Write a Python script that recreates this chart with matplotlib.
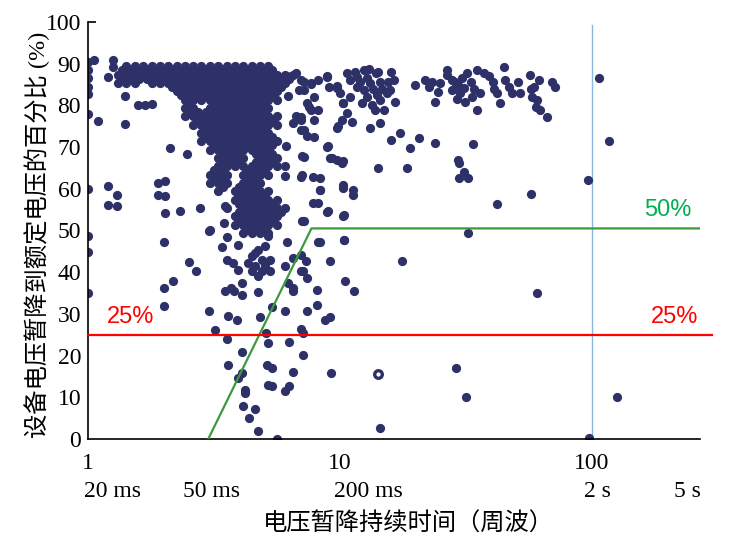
import numpy as np
import matplotlib.pyplot as plt

plt.rcParams['font.family'] = ['Liberation Serif', 'Noto Sans CJK SC']

# 暂降持续时间（周波）与电压百分比 —— 从原图读取
# 密集区：每行 (百分比, [持续时间...])
core_rows = [
    (89.4, [1.42, 1.54, 1.66, 1.79, 1.93, 2.08, 2.25, 2.43, 2.62, 2.82, 3.05, 3.29, 3.55, 3.83, 4.13, 4.46, 4.81, 5.19]),
    (88.4, [1.37, 1.48, 1.60, 1.72, 1.86, 2.00, 2.16, 2.34, 2.52, 2.72, 2.93, 3.17, 3.42, 3.69, 3.98, 4.29, 4.63, 5.00, 5.39]),
    (87.4, [1.32, 1.42, 1.54, 1.66, 1.79, 1.93, 2.08, 2.25, 2.43, 2.62, 2.82, 3.05, 3.29, 3.55, 3.83, 4.13, 4.46, 4.81, 5.19, 5.60, 6.05, 6.53]),
    (86.4, [1.37, 1.48, 1.60, 1.72, 1.86, 2.00, 2.16, 2.34, 2.52, 2.72, 2.93, 3.17, 3.42, 3.69, 3.98, 4.29, 4.63, 5.00, 5.39, 5.82, 6.29]),
    (85.4, [1.32, 1.42, 1.54, 1.79, 1.93, 2.08, 2.25, 2.43, 2.62, 2.82, 3.05, 3.29, 3.55, 3.83, 4.13, 4.46, 4.81, 5.19, 5.60, 6.05]),
    (84.4, [2.16, 2.34, 2.52, 2.72, 2.93, 3.17, 3.42, 3.69, 3.98, 4.29, 4.63, 5.00, 5.39, 5.82]),
    (83.4, [2.25, 2.43, 2.62, 2.82, 3.05, 3.29, 3.55, 3.83, 4.13, 4.46, 4.81, 5.19, 5.60]),
    (82.4, [2.34, 2.52, 2.72, 2.93, 3.17, 3.42, 3.69, 3.98, 4.29, 4.63, 5.00, 5.39]),
    (81.4, [2.43, 2.62, 2.82, 3.05, 3.29, 3.55, 3.83, 4.13, 4.46, 4.81, 5.19, 5.60]),
    (80.4, [2.52, 3.17, 3.42, 3.69, 3.98, 4.29, 4.63, 5.00]),
    (79.4, [2.43, 2.62, 3.05, 3.29, 3.55, 3.83, 4.13, 4.46, 4.81, 5.19]),
    (78.4, [2.52, 2.72, 2.93, 3.17, 3.42, 3.69, 3.98, 4.29, 4.63, 5.00]),
    (77.4, [2.43, 2.62, 2.82, 3.05, 3.29, 3.55, 3.83, 4.13, 4.46, 4.81, 5.19, 5.60]),
    (76.4, [2.72, 2.93, 3.17, 3.42, 3.69, 3.98, 4.29, 4.63, 5.00, 5.39]),
    (75.4, [2.62, 2.82, 3.05, 3.29, 3.55, 3.83, 4.13, 4.46, 4.81, 5.19, 5.60]),
    (74.4, [2.93, 3.17, 3.42, 3.69, 3.98, 4.29, 4.63, 5.00]),
    (73.4, [2.82, 3.05, 3.29, 3.55, 3.83, 4.13, 4.46, 4.81, 5.19]),
    (72.4, [2.93, 3.17, 3.42, 3.69, 3.98, 4.29, 4.63, 5.00, 5.39]),
    (71.4, [2.82, 3.05, 3.29, 3.55, 3.83, 4.13, 4.46, 4.81, 5.19, 5.60]),
    (70.4, [3.17, 3.42, 3.69, 3.98, 4.29, 4.63, 5.00, 5.39]),
    (69.4, [3.05, 3.29, 3.55, 3.83, 4.13, 4.46, 4.81, 5.19]),
    (68.4, [3.42, 3.69, 3.98, 4.63, 5.00, 5.39]),
    (67.4, [3.29, 3.55, 3.83, 4.13, 4.81, 5.19, 5.60]),
    (66.4, [3.42, 3.69, 3.98, 4.63, 5.00, 5.39]),
    (65.4, [3.29, 3.55, 3.83, 4.13, 4.46, 4.81, 5.19, 5.60, 6.05]),
    (64.4, [3.17, 3.42, 4.29, 4.63, 5.00]),
    (63.4, [3.05, 3.29, 3.55, 4.13, 4.46, 4.81, 5.19]),
    (62.4, [3.17, 3.42, 4.29, 4.63]),
    (61.4, [3.05, 3.29, 3.55, 4.13, 4.46, 4.81]),
    (60.4, [3.42, 3.98, 4.29, 4.63]),
    (59.4, [3.29, 3.83, 4.13, 4.46, 4.81, 5.19]),
    (58.4, [3.98, 4.29, 4.63, 5.00]),
    (57.4, [3.83, 4.13, 4.46, 4.81, 5.19, 5.60]),
    (56.4, [3.98, 4.29, 4.63, 5.00, 5.39]),
    (55.4, [3.55, 4.13, 4.46, 4.81, 5.19, 5.60, 6.05]),
    (54.4, [3.98, 4.29, 4.63, 5.00, 5.39, 5.82]),
    (53.4, [3.83, 4.13, 4.46, 4.81, 5.19, 5.60]),
    (52.4, [3.98, 4.29, 4.63, 5.00, 5.39]),
    (51.4, [3.83, 4.13, 4.46, 4.81, 5.19, 5.60]),
    (50.4, [4.29, 4.63, 5.00]),
    (49.4, [4.13, 4.46, 4.81, 5.19]),
]

left_x = [1.0, 1.0, 1.0, 1.0, 1.0, 1.0, 1.0, 1.0, 1.0, 1.0, 1.06, 1.1, 1.26, 1.26, 1.2, 1.40, 1.40,
          1.2, 1.3, 1.2, 1.3, 1.58, 1.68, 1.79, 2.12, 2.47, 1.89, 2.02, 1.89, 2.02,
          2.02, 2.32, 2.78, 3.05, 3.50, 3.45]
left_y = [90.5, 88.5, 86.5, 84.5, 82.8, 78, 60, 48.8, 44.8, 35, 90.8, 76.3, 90.8, 89.2, 86.8, 82.3, 75.5,
          60.6, 58.6, 56.2, 55.8, 80, 80.2, 80.4, 69.8, 68.4, 61.4, 61.8, 58.6, 58.2,
          54.2, 54.6, 55.4, 50.2, 55.8, 51.8]

mid_x = [6.05, 6.36, 6.7, 7.0, 7.7, 6.2, 6.9, 7.4, 6.7, 7.0, 7.7, 6.5, 7.0, 7.4, 7.05, 6.1,
         6.05, 7.05, 7.8, 8.33, 7.8, 8.98, 7.05, 8.9, 9.7, 10.3, 9.85, 8.98, 9.27, 10.3, 10.3, 10.4]
mid_y = [85.8, 87, 87.8, 86.2, 85.4, 82.2, 83.8, 80.6, 77.4, 76.6, 79, 75.8, 74.2, 72.6, 67.8, 70.2,
         63, 63.2, 62.9, 59.8, 56.6, 54.6, 52.2, 87, 84.6, 80.6, 75, 70.2, 67.4, 66.6, 60.2, 53.8]

right_x = [7.2, 7.7, 8.2, 7.2, 7.9, 7.5, 8.2, 7.0, 7.9, 7.2, 7.9, 8.9, 9.0, 9.7, 10,
           10.7, 11, 11.7, 12.4, 12.8, 13.2, 13.9, 14.4, 11.7, 12.4, 12.8, 13.4, 14.4, 14.9, 15.8, 16.3, 15.3, 16.5, 10.3,
           11.5, 13, 14.1, 12, 13.5, 14.7, 15.5, 12.2, 13.8, 14, 11, 16,
           10.7, 10.2, 9.7, 11.2, 13.2, 14.4, 16, 17.3, 19, 20.6, 23.9, 33.7,
           29.3, 29.7, 31, 29.7, 32.2, 42, 57.3, 96.5, 107, 117,
           8.9, 9.1, 9.7, 10.2, 14.2, 18.5, 7.2, 7.0, 8.3, 8.3, 10.3, 11.3, 11.3,
           8.2, 8.9, 10.3, 7.2, 8.2, 10.4, 32.2, 17.6]
right_y = [85.5, 85.2, 86, 83.7, 82.1, 79.7, 79, 77.3, 76.5, 74, 72.5, 86.9, 84.5, 84.1, 82.9,
           87.7, 86.1, 86.9, 88.5, 86.5, 85.3, 87.7, 85.7, 84.5, 83.7, 82.1, 80.1, 81.3, 78.9, 83.7, 86.1, 82.9, 80.9, 80.5,
           88, 88.7, 88, 85.5, 84, 84, 85.5, 80.5, 79, 82.5, 82, 88,
           78.1, 76.5, 74.5, 76.1, 74.5, 75.7, 71.7, 73.3, 69.7, 72.1, 71.1, 70.7,
           66.9, 66.1, 64.1, 62.5, 62.5, 56.3, 58.7, 62.2, 86.6, 71.5,
           70.1, 67.3, 66.9, 66.1, 65.1, 64.9, 67.7, 62.9, 62.7, 59.7, 60.9, 59.7, 58.5,
           56.5, 54.5, 53.5, 52.3, 47.3, 47.7, 49.3, 42.7]

band_x = [19.9, 21.8, 23.1, 25, 26.6, 26.6, 27.9, 27.9, 29.3, 30, 31, 31.4, 32, 33.5, 35, 36, 37.2,
          40.6, 42, 43.2, 44.6, 46.6, 51, 51.9, 56.9, 58.6, 61.3, 60.5, 62.3, 66.1, 69.3, 71,
          35, 23.9, 24.5, 22.5, 28.5, 30.5, 33, 34, 29, 45, 48, 57, 58, 60, 39, 41]
band_y = [84.9, 86.1, 85.7, 85.3, 88.5, 87.3, 86.1, 83.7, 84.9, 82.9, 84.1, 80.9, 87.7, 82.1, 88.5, 82.9, 87.7,
          85.7, 82.9, 80.5, 89.3, 84.5, 85.7, 82.9, 87.3, 84.5, 86.1, 81.3, 78.9, 77.3, 85.7, 84.5,
          78.9, 80.9, 83.3, 84.5, 85.5, 86.5, 85.5, 84, 81.5, 86, 83, 84, 82, 79.5, 87, 84]

low_x = [2.01, 3.03, 3.55, 3.4, 3.95, 5.19, 6.14, 8.3, 10.4, 2.52, 2.69, 2.17, 2.01, 2.01, 3.03,
         4.46, 4.74, 5.04, 4.33, 4.6, 4.9, 4.46, 4.9, 5.25, 4.74, 5.25, 4.6, 5.04,
         3.55, 3.75, 3.95, 4.07, 3.5, 3.7, 3.8, 4.07, 4.74,
         6.05, 6.5, 7.0, 7.3, 6.2, 6.5, 6.5, 7.0, 7.1, 7.4,
         9.1, 10.5, 11.4, 8.1, 8.1, 7.4, 8.7, 9.1,
         6.05, 5.35, 4.8, 3.6, 3.9, 3.19, 3.55, 5.1, 5.19,
         7.0, 7.1, 6.3, 4.07, 7.1, 3.6, 4.1, 3.95, 5.15, 5.35, 6.5, 9.2,
         4.2, 4.2, 5.2, 5.35, 6.05, 6.25, 4.13, 4.6, 4.35, 4.74, 5.6, 14.4,
         28.8, 31.6, 126, 97, 60.3]
low_y = [47.3, 49.8, 48.5, 46.1, 46.6, 48.6, 47.3, 47.3, 47.8, 42.4, 40.2, 37.8, 36.1, 32, 30.8,
         43.8, 45.4, 46.2, 42.2, 41.4, 43, 40.2, 40.2, 40.2, 39, 43, 44.6, 41.8,
         43, 42.2, 40.6, 37.4, 35.4, 36.2, 35.4, 34.6, 35.2,
         41.4, 43.4, 44.2, 42.6, 37.4, 36.2, 35.4, 40.2, 40.2, 38.6,
         42.6, 37.8, 35.4, 35.8, 32.2, 30.6, 28.6, 29.2,
         30.6, 31.7, 29.3, 29.4, 28.6, 26.2, 24, 25.4, 23,
         26.4, 25.4, 23.2, 20.8, 20.2, 17.7, 15.8, 14.6, 17.8, 17, 16.1, 15.8,
         11.8, 11, 13, 12.6, 11.4, 12.6, 7.8, 7.2, 5, 1.8, 0, 2.6,
         17, 10.1, 10.1, 0.2, 35]

hollow_x = [14.1]
hollow_y = [15.6]

# 设备耐受曲线与参考线
curve_x = [3.0, 7.7, 268]
curve_y = [0, 50.5, 50.5]
limit_25 = 25
cycle_2s = 100

cycle_ticks = [1, 10, 100]
time_labels = ['20 ms', '50 ms', '200 ms', '2 s', '5 s']
time_label_x = [1.25, 3.1, 12.9, 105, 240]
y_ticks = np.arange(0, 101, 10)

core_x = [x for y, xs in core_rows for x in xs]
core_y = [y for y, xs in core_rows for x in xs]
all_x = core_x + left_x + mid_x + right_x + band_x + low_x
all_y = core_y + left_y + mid_y + right_y + band_y + low_y

dot_color = '#2e3068'

fig = plt.figure(figsize=(7.32, 5.53), dpi=100)
ax = fig.add_axes([88 / 732, 1 - 439 / 553, 612 / 732, 417 / 553])

ax.scatter(all_x, all_y, s=44, color=dot_color, linewidths=0, zorder=2)
ax.scatter(hollow_x, hollow_y, s=30, facecolor='white', edgecolor=dot_color, linewidths=2.4, zorder=2)

ax.axvline(cycle_2s, ymin=0, ymax=0.993, color='#8ab6e2', lw=1.0, zorder=1)
ax.plot(curve_x, curve_y, color='#3c9a3c', lw=1.6, zorder=3)
ax.axhline(limit_25, xmin=0, xmax=1.02, color='#ff0000', lw=1.6, zorder=3, clip_on=False)

ax.text(1.47, 29.3, '25%', color='#ff0000', fontsize=17, family='Liberation Sans', ha='center', va='center')
ax.text(213, 29.3, '25%', color='#ff0000', fontsize=17, family='Liberation Sans', ha='center', va='center')
ax.text(200, 54.9, '50%', color='#00b050', fontsize=17, family='Liberation Sans', ha='center', va='center')

ax.set_xscale('log')
ax.set_xlim(1, 268)
ax.set_ylim(0, 100)
ax.set_xticks(cycle_ticks)
ax.set_xticklabels([str(v) for v in cycle_ticks], fontsize=17)
ax.xaxis.set_minor_locator(plt.NullLocator())
for lx, lab in zip(time_label_x, time_labels):
    ax.text(lx, -0.127, lab, transform=ax.get_xaxis_transform(), fontsize=17,
            ha='center', va='center')

ax.set_yticks(y_ticks)
ax.set_yticklabels([str(v) for v in y_ticks], fontsize=17)
ax.tick_params(axis='x', length=0, pad=10)
ax.tick_params(axis='y', direction='in', length=0, pad=5)
ax.yaxis.get_major_ticks()[-1].tick1line.set_markersize(6)
ax.yaxis.get_major_ticks()[-1].tick1line.set_markeredgewidth(1.2)

for side in ['top', 'right']:
    ax.spines[side].set_visible(False)
for side in ['left', 'bottom']:
    ax.spines[side].set_linewidth(1.2)

ax.set_xlabel('电压暂降持续时间（周波）', fontsize=17.5)
ax.xaxis.set_label_coords(0.523, -0.203)
ax.xaxis.label.set_va('center')
ax.set_ylabel('设备电压暂降到额定电压的百分比 (%)', fontsize=17.5)
ax.yaxis.set_label_coords(-0.083, 0.49)
ax.yaxis.label.set_va('center')

fig.savefig('out.png', dpi=100)
